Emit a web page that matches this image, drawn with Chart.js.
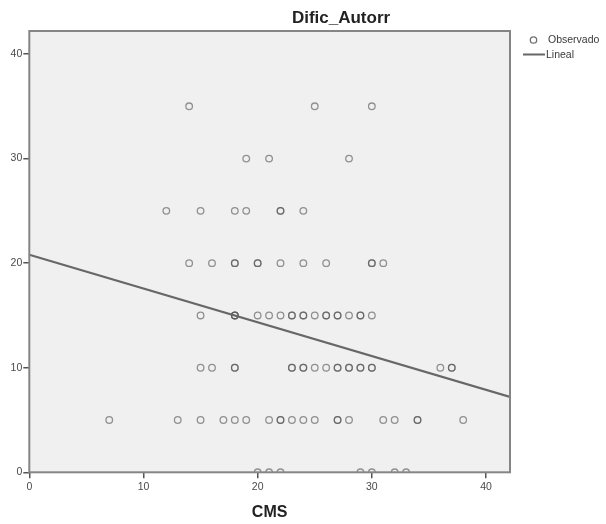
<!DOCTYPE html>
<html>
<head>
<meta charset="utf-8">
<script src="https://cdn.jsdelivr.net/npm/chart.js@4.4.1/dist/chart.umd.min.js"></script>
<style>
  html, body { margin: 0; padding: 0; background: #ffffff; }
  #wrap { width: 606px; height: 524px; position: relative; }
</style>
</head>
<body>
<div id="wrap"><canvas id="c" width="606" height="524"></canvas></div>
<script>
// ---- Data ----
const chartTitle = "Dific_Autorr";
const xAxisTitle = "CMS";
const legendLabels = ["Observado", "Lineal"];
const xTickValues = [0, 10, 20, 30, 40];
const yTickValues = [0, 10, 20, 30, 40];

// Observed points: CMS (x) and Dific_Autorr (y), paired by index
const cms = [
  14, 25, 30,
  19, 21, 28,
  12, 15, 18, 19, 22, 22, 24,
  14, 16, 18, 18, 20, 20, 22, 24, 26, 30, 30, 31,
  15, 18, 18, 18, 20, 21, 22, 23, 23, 24, 24, 25, 26, 26, 27, 27, 28, 29, 29, 30,
  15, 16, 18, 18, 23, 23, 24, 24, 25, 26, 27, 27, 28, 28, 29, 29, 30, 30, 36, 37, 37,
  7, 13, 15, 17, 18, 19, 21, 22, 22, 23, 24, 25, 27, 27, 28, 31, 32, 34, 34, 38,
  20, 21, 22, 29, 30, 32, 33
];
const dific = [
  35, 35, 35,
  30, 30, 30,
  25, 25, 25, 25, 25, 25, 25,
  20, 20, 20, 20, 20, 20, 20, 20, 20, 20, 20, 20,
  15, 15, 15, 15, 15, 15, 15, 15, 15, 15, 15, 15, 15, 15, 15, 15, 15, 15, 15, 15,
  10, 10, 10, 10, 10, 10, 10, 10, 10, 10, 10, 10, 10, 10, 10, 10, 10, 10, 10, 10, 10,
  5, 5, 5, 5, 5, 5, 5, 5, 5, 5, 5, 5, 5, 5, 5, 5, 5, 5, 5, 5,
  0, 0, 0, 0, 0, 0, 0
];

// Linear fit
const fitIntercept = 20.8;
const fitSlope = -0.323;
const xMin = 0, xMax = 42.1;
const yMin = 0, yMax = 42.2;

// ---- Build datasets ----
const observed = cms.map((x, i) => ({ x: x, y: dific[i] }));
const fitLine = [xMin, xMax].map(x => ({ x: x, y: fitIntercept + fitSlope * x }));

const FONT = "'Liberation Sans', Arial, sans-serif";

const plotBg = {
  id: 'plotBg',
  beforeDraw(chart) {
    const { ctx, chartArea: a } = chart;
    ctx.save();
    ctx.fillStyle = '#f0f0f0';
    ctx.fillRect(a.left, a.top, a.right - a.left, a.bottom - a.top);
    ctx.restore();
  },
  afterDraw(chart) {
    const { ctx, chartArea: a } = chart;
    ctx.save();
    ctx.strokeStyle = '#858585';
    ctx.lineWidth = 2;
    ctx.strokeRect(a.left, a.top, a.right - a.left, a.bottom - a.top);
    // title
    ctx.fillStyle = '#222222';
    ctx.font = "bold 17px " + FONT;
    ctx.textAlign = 'center';
    ctx.textBaseline = 'middle';
    ctx.fillText(chartTitle, 341, 18);
    // legend
    ctx.beginPath();
    ctx.arc(533.5, 40, 3.2, 0, Math.PI * 2);
    ctx.strokeStyle = '#707070';
    ctx.lineWidth = 1.3;
    ctx.stroke();
    ctx.beginPath();
    ctx.moveTo(523, 54.5);
    ctx.lineTo(545, 54.5);
    ctx.strokeStyle = '#666666';
    ctx.lineWidth = 2;
    ctx.stroke();
    ctx.fillStyle = '#3a3a3a';
    ctx.font = "10.5px " + FONT;
    ctx.textAlign = 'left';
    ctx.fillText(legendLabels[0], 548, 40.5);
    ctx.fillText(legendLabels[1], 546, 55);
    ctx.restore();
  }
};

new Chart(document.getElementById('c'), {
  data: {
    datasets: [
      {
        type: 'scatter',
        label: legendLabels[0],
        data: observed,
        pointStyle: 'circle',
        pointRadius: 3.3,
        pointBorderWidth: 1.3,
        pointBackgroundColor: 'rgba(0,0,0,0)',
        pointBorderColor: 'rgba(80,80,80,0.6)',
        clip: 0,
        order: 2
      },
      {
        type: 'line',
        label: legendLabels[1],
        data: fitLine,
        borderColor: '#676767',
        borderWidth: 2.2,
        pointRadius: 0,
        fill: false,
        clip: 0,
        order: 1
      }
    ]
  },
  options: {
    responsive: false,
    animation: false,
    devicePixelRatio: 1,
    layout: { padding: { top: 31, right: 96, left: 0, bottom: 0 } },
    plugins: {
      legend: { display: false },
      title: { display: false },
      tooltip: { enabled: false }
    },
    scales: {
      x: {
        type: 'linear',
        min: xMin,
        max: xMax,
        afterFit(scale) { scale.height = 51.7; },
        afterBuildTicks(scale) { scale.ticks = xTickValues.map(v => ({ value: v })); },
        ticks: {
          includeBounds: false,
          stepSize: 10,
          padding: 3,
          color: '#4a4a4a',
          font: { family: FONT, size: 10.5 },
          maxRotation: 0
        },
        grid: {
          display: true,
          drawOnChartArea: false,
          drawTicks: true,
          tickLength: 6,
          color: '#555555',
          lineWidth: 1.5
        },
        border: { display: false },
        title: {
          display: true,
          text: xAxisTitle,
          color: '#222222',
          font: { family: FONT, size: 16, weight: 'bold' },
          padding: { top: 0, bottom: 2 }
        }
      },
      y: {
        type: 'linear',
        min: yMin,
        max: yMax,
        afterFit(scale) { scale.width = 29.3; },
        afterBuildTicks(scale) { scale.ticks = yTickValues.map(v => ({ value: v })); },
        ticks: {
          includeBounds: false,
          stepSize: 10,
          padding: 1,
          color: '#4a4a4a',
          font: { family: FONT, size: 10.5 }
        },
        grid: {
          display: true,
          drawOnChartArea: false,
          drawTicks: true,
          tickLength: 6,
          color: '#555555',
          lineWidth: 1.5
        },
        border: { display: false }
      }
    }
  },
  plugins: [plotBg]
});
</script>
</body>
</html>
